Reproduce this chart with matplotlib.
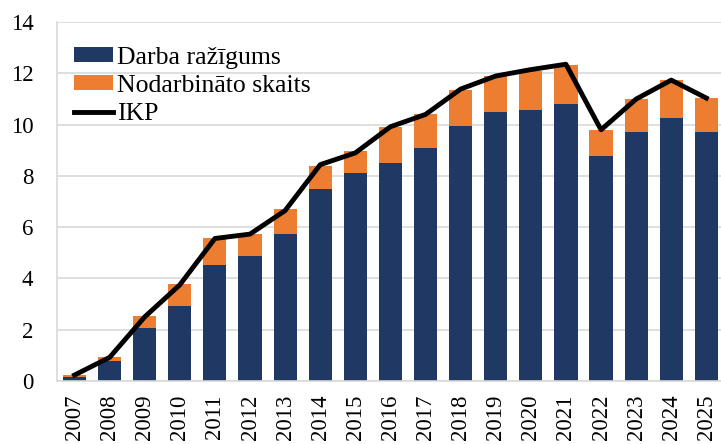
import matplotlib.pyplot as plt
import numpy as np

years = [str(y) for y in range(2007, 2026)]
darba = [0.17, 0.79, 2.08, 2.92, 4.54, 4.89, 5.72, 7.50, 8.10, 8.49,
         9.10, 9.93, 10.49, 10.58, 10.82, 8.78, 9.70, 10.26, 9.70]
nodarb = [0.05, 0.15, 0.44, 0.85, 1.02, 0.84, 0.99, 0.88, 0.87, 1.41,
          1.33, 1.42, 1.43, 1.52, 1.52, 1.03, 1.31, 1.48, 1.35]
ikp = [0.23, 0.92, 2.50, 3.75, 5.56, 5.73, 6.65, 8.44, 8.90, 9.92,
       10.40, 11.39, 11.90, 12.15, 12.36, 9.80, 11.00, 11.74, 11.04]

plt.rcParams['font.family'] = ['Liberation Serif', 'DejaVu Serif']

fig = plt.figure(figsize=(7.21, 4.44), dpi=100)
ax = fig.add_axes([0.079, 0.142, 0.925, 0.808])

x = np.arange(len(years))
b1 = ax.bar(x, darba, width=0.66, color='#203864', zorder=2)
b2 = ax.bar(x, nodarb, width=0.66, bottom=darba, color='#ED7D31', zorder=2)
ln, = ax.plot(x, ikp, color='black', linewidth=3.5, zorder=3)

ax.set_xlim(-0.5, 18.5)
ax.set_ylim(0, 14)
ax.set_yticks(range(0, 15, 2))
ax.set_xticks(x)
ax.set_xticklabels(years, rotation=90)
ax.tick_params(axis='both', length=0, labelsize=16.5)
ax.tick_params(axis='y', pad=17)
ax.tick_params(axis='x', pad=10)

ax.grid(axis='y', color='#d9d9d9', linewidth=1.2, zorder=0)
for s in ['top', 'right']:
    ax.spines[s].set_visible(False)
for s in ['left', 'bottom']:
    ax.spines[s].set_color('#d9d9d9')
    ax.spines[s].set_linewidth(1.2)

ax.legend([b1, b2, ln], ['Darba ražīgums', 'Nodarbināto skaits', 'IKP'],
          loc='upper left', bbox_to_anchor=(0.025, 0.932), frameon=False,
          fontsize=18.5, handlelength=1.55, handleheight=0.55,
          handletextpad=0.15, labelspacing=0.24, borderaxespad=0,
          borderpad=0)

fig.savefig('out.png', dpi=100)
